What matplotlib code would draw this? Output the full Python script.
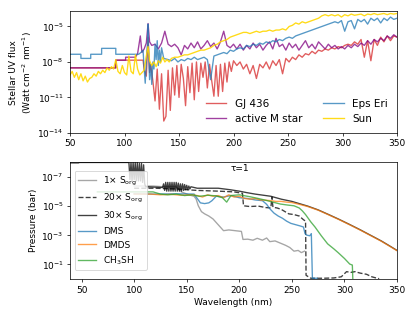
import numpy as np
import matplotlib
matplotlib.use('Agg')
import matplotlib.pyplot as plt

########## stellar spectra (log10 flux, Watt cm^-2 nm^-1) ##########
gj436_wl = [50, 92, 92, 117,
            118, 120, 121.6, 123, 124, 126, 128, 130, 132, 134,
            136, 138, 140, 142, 144, 146, 148, 150, 152, 154,
            156, 158, 160, 162, 164, 166, 168, 170, 172, 174,
            176, 178, 180, 182, 184, 186, 188, 190, 192, 194,
            196, 198, 200,
            203, 206, 209, 212, 215, 218, 221, 224, 227, 230,
            233, 236, 239, 242, 245, 248, 251, 254, 257, 260,
            263, 266, 269, 272, 275, 278, 281, 284, 287, 290,
            293, 296, 299, 302, 305, 308, 311, 314, 317, 320,
            323, 326, 329, 332, 335, 338, 341, 344, 347, 350]
gj436_logf = [-8.5, -8.5, -7.85, -7.85,
              -8.6, -9.2, -5.9, -8.9, -8.2, -9.6, -11.3, -8.6, -12.0, -9.0,
              -13.0, -12.6, -8.7, -12.1, -8.5, -10.8, -8.3, -11.0, -8.2, -9.4,
              -11.7, -8.4, -10.6, -8.1, -11.2, -8.0, -10.5, -8.1, -9.3, -8.0,
              -10.2, -8.2, -9.6, -10.9, -8.3, -10.9, -8.2, -10.5, -8.1, -9.7,
              -8.0, -8.8, -7.9,
              -8.3, -8.0, -8.6, -8.2, -9.0, -8.3, -9.4, -8.2, -8.5, -8.0,
              -8.6, -7.9, -8.3, -7.8, -9.0, -7.7, -8.0, -7.6, -7.8, -7.4,
              -7.6, -7.3, -7.4, -7.1, -7.3, -7.0, -7.1, -6.9, -7.0, -6.8,
              -6.9, -6.7, -6.8, -6.6, -6.5, -6.6, -6.3, -6.5, -6.1, -7.6,
              -6.2, -7.9, -6.1, -6.6, -5.9, -6.3, -5.8, -6.2, -5.8, -5.9]

mstar_wl = [50, 92, 92, 101, 101, 110, 112, 114.5, 116, 118, 120, 121.6, 123,
            125, 128, 131, 134, 137, 140, 143, 146, 149, 152,
            155, 158, 161, 164, 167, 170, 173, 176, 179, 182,
            185, 188, 191, 194, 197, 200,
            203, 206, 209, 212, 215, 218, 221, 224, 227, 230,
            233, 236, 239, 242, 245, 248, 251, 254, 257, 260,
            263, 266, 269, 272, 275, 278, 281, 284, 287, 290,
            293, 296, 299, 302, 305, 308, 311, 314, 317, 320,
            323, 326, 329, 332, 335, 338, 341, 344, 347, 350]
mstar_logf = [-8.5, -8.5, -7.85, -7.85, -7.6, -7.6, -7.3, -5.8, -7.2, -6.9, -6.4, -4.75, -6.3,
              -6.6, -6.5, -6.9, -6.4, -5.4, -6.5, -6.7, -6.5, -6.8, -7.4,
              -6.6, -6.9, -6.4, -6.8, -6.3, -6.9, -6.6, -6.2, -6.7, -6.4,
              -6.9, -6.3, -5.4, -6.6, -6.8, -6.5,
              -6.9, -6.5, -7.0, -6.6, -6.9, -6.4, -6.8, -6.5, -7.0, -6.6,
              -6.3, -6.9, -6.0, -6.7, -6.5, -7.0, -6.4, -6.8, -6.5, -7.0,
              -6.6, -6.2, -6.8, -6.5, -6.9, -6.3, -6.6, -6.9, -6.5, -6.8,
              -6.6, -6.9, -6.7, -6.9, -6.6, -6.8, -6.5, -6.7, -6.4, -6.6,
              -6.2, -6.5, -6.1, -6.3, -6.0, -6.2, -5.8, -6.0, -5.7, -5.9]

epseri_wl = [50, 60, 60, 69, 69, 79, 79, 92, 92, 113,
             115, 117, 118, 119, 120, 121, 121.6, 122, 123, 124,
             125, 126, 127, 128, 129, 130, 131, 132, 133, 134, 136,
             140, 143, 146, 149, 152, 155, 158, 161, 164, 167,
             170, 173, 176, 179, 182, 185, 188, 191, 194, 197,
             200, 203, 206, 209, 212, 215, 218, 221, 224, 227,
             230, 233, 236, 239, 242, 245, 248, 251, 254, 257,
             260, 263, 266, 269, 272, 275, 278, 281, 284, 287,
             290, 293, 296, 299, 302, 305, 308, 311, 314, 317,
             320, 323, 326, 329, 332, 335, 338, 341, 344, 347, 350]
epseri_logf = [-7.35, -7.35, -7.7, -7.7, -7.35, -7.35, -6.85, -6.85, -7.35, -7.35,
               -7.2, -7.0, -8.5, -9.8, -8.0, -6.5, -4.8, -6.8, -9.5, -8.2,
               -9.9, -8.0, -8.6, -6.5, -7.8, -6.2, -8.3, -7.0, -8.0, -6.8, -7.7,
               -7.8, -7.9, -7.7, -8.0, -7.8, -7.9, -7.7, -7.8, -7.6, -7.8,
               -7.7, -7.6, -7.8, -9.5, -7.5, -7.4, -7.3, -7.2, -7.3, -7.0,
               -7.1, -6.9, -6.8, -6.9, -6.6, -6.7, -6.5, -6.6, -6.4, -6.5,
               -6.3, -6.4, -6.2, -6.3, -6.1, -6.2, -6.0, -5.9, -6.0, -5.8,
               -5.7, -5.6, -5.5, -5.4, -5.3, -5.2, -5.1, -5.0, -4.9, -4.8,
               -4.7, -4.6, -4.7, -4.5, -5.4, -4.6, -4.5, -5.2, -4.4, -4.6,
               -4.4, -4.8, -4.3, -4.5, -4.3, -4.7, -4.3, -4.5, -4.2, -4.4, -4.3]

sun_wl = [50, 52, 54, 56, 58, 60, 62, 64, 66, 68,
          70, 72, 74, 76, 78, 80, 82, 84, 86, 88,
          90, 92, 94, 96, 98, 100, 102, 104, 106, 108,
          110, 112, 114, 116, 118,
          120, 121.6, 123, 125, 127, 129, 131, 133, 135, 137, 139, 141,
          143, 146, 149, 152, 155, 158, 161, 164, 167, 170,
          173, 176, 179, 182, 185, 188, 191, 194, 197, 200,
          203, 206, 209, 212, 215, 218, 221, 224, 227, 230,
          233, 236, 239, 242, 245, 248, 251, 254, 257, 260,
          263, 266, 269, 272, 275, 278, 281, 284, 287, 290,
          293, 296, 299, 302, 305, 308, 311, 314, 317, 320,
          323, 326, 329, 332, 335, 338, 341, 344, 347, 350]
sun_logf = [-9.1, -8.8, -9.3, -8.9, -9.5, -9.0, -9.6, -9.2, -9.7, -9.4,
            -9.3, -9.0, -9.2, -8.8, -9.0, -8.7, -8.9, -8.5, -8.7, -8.4,
            -8.6, -7.8, -8.8, -9.0, -8.3, -8.9, -9.1, -7.5, -8.8, -9.0,
            -7.4, -8.6, -9.1, -8.9, -8.7,
            -7.5, -6.7, -7.9, -8.3, -8.0, -8.4, -7.9, -8.1, -7.6, -8.0, -7.8, -8.0,
            -7.7, -7.6, -7.6, -7.5, -7.4, -7.4, -7.3, -7.2, -7.1, -7.0,
            -7.0, -6.9, -6.8, -6.6, -6.5, -6.3, -6.2, -6.1, -5.9, -5.8,
            -5.7, -5.6, -5.5, -5.5, -5.6, -5.5, -5.4, -5.5, -5.4, -5.4,
            -5.3, -5.4, -5.3, -5.3, -5.2, -5.3, -5.0, -4.9, -4.7, -4.8,
            -4.6, -4.7, -4.6, -4.5, -4.4, -4.3, -4.1, -4.0, -4.1, -4.0,
            -4.1, -4.0, -4.2, -4.0, -4.1, -3.95, -4.05, -4.0, -3.95, -4.1,
            -3.95, -4.0, -3.9, -4.0, -3.95, -3.9, -4.0, -3.9, -3.95, -3.9]

########## tau=1 pressure (log10 bar) ##########
s1_wl = [100, 118, 128, 140, 145, 152, 157, 159, 161, 164,
         167, 171, 175, 180, 185, 190, 196, 202, 203.5, 208,
         213, 217, 222, 226, 229, 234, 239, 244, 248, 252,
         256, 259, 262]
s1_logp = [-6.35, -6.35, -6.3, -6.3, -5.95, -5.75, -5.65, -5.45, -5.0, -4.6,
           -4.45, -4.3, -4.1, -3.7, -3.3, -3.35, -3.3, -3.25, -2.7, -2.72,
           -2.65, -2.78, -2.65, -2.8, -2.55, -2.6, -2.45, -2.3, -2.15, -1.9,
           -1.95, -1.8, -1.9]

s20_wl = [100, 120, 140, 160, 180, 195, 203, 204, 210, 218,
          225, 230, 231, 232, 236, 240, 247, 252, 257, 261,
          263, 263.5, 268, 280, 290, 297, 302, 306, 310, 315,
          321, 326, 331, 333]
s20_logp = [-6.2, -6.2, -6.15, -6.05, -6.0, -5.95, -5.85, -5.0, -4.95, -4.98,
            -4.88, -4.85, -5.6, -4.9, -4.85, -4.75, -4.45, -4.4, -4.3, -4.05,
            -3.95, -0.25, -0.05, -0.05, -0.07, -0.15, -0.5, -0.45, -0.5, -0.4,
            -0.32, -0.15, -0.05, -0.02]

s30_wl = [39, 47, 48, 95, 96, 97, 98, 99, 100, 101,
          102, 103, 104, 105, 106, 107, 108, 109, 110, 111, 127,
          128, 129, 130, 131, 132, 133, 134, 135, 136, 137,
          138, 139, 140, 141, 142, 143, 144, 145, 146, 147,
          148, 149, 150, 151, 152, 153, 154,
          160, 170, 180, 191, 200, 207, 215, 230, 240, 250,
          257, 265, 275, 285, 295, 305, 315, 325, 335, 342, 350]
s30_logp = [-7.93, -7.93, -7.96, -7.96, -6.8, -7.95, -6.7, -7.95, -6.8, -7.95,
            -6.7, -7.95, -6.7, -7.9, -6.7, -7.9, -6.6, -7.8, -6.5, -6.3, -6.25,
            -6.5, -6.05, -6.6, -6.0, -6.6, -6.0, -6.6, -6.0, -6.6, -6.0,
            -6.6, -6.0, -6.6, -6.0, -6.55, -6.0, -6.5, -6.0, -6.5, -6.05,
            -6.45, -6.1, -6.4, -6.1, -6.35, -6.15, -6.3,
            -6.2, -6.2, -6.2, -6.1, -6.0, -5.9, -5.8, -5.65, -5.45, -5.3,
            -5.15, -4.98, -4.72, -4.4, -4.07, -3.72, -3.36, -2.98, -2.6, -2.3, -1.95]

dms_wl = [100, 120, 140, 157, 160, 163, 167, 171, 174, 178,
          185, 192, 200, 208, 215, 222, 226, 229, 233, 237,
          241, 245, 249, 254, 258, 261, 262.5, 264, 267, 268.5,
          269.5, 274]
dms_logp = [-5.82, -5.8, -5.82, -5.8, -5.5, -5.2, -5.15, -5.2, -5.35, -5.65,
            -5.6, -5.7, -5.55, -5.5, -5.4, -5.35, -5.1, -4.8, -4.5, -4.3,
            -4.15, -3.95, -3.8, -3.7, -3.62, -3.55, -3.1, -3.0, -2.95, -3.1,
            -0.05, -0.05]

dmds_wl = [100, 115, 125, 135, 145, 155, 160, 165, 170, 175,
           180, 185, 190, 195, 200, 205, 210, 215, 220, 225,
           230, 235, 240, 245, 250, 257, 265, 275, 285, 295,
           305, 315, 325, 335, 342, 350]
dmds_logp = [-5.8, -5.8, -5.75, -5.78, -5.72, -5.75, -5.7, -5.6, -5.75, -5.65,
             -5.7, -5.55, -5.75, -5.6, -5.65, -5.5, -5.45, -5.5, -5.4, -5.38,
             -5.35, -5.3, -5.3, -5.25, -5.22, -5.1, -4.95, -4.7, -4.38, -4.05,
             -3.7, -3.34, -2.96, -2.58, -2.28, -1.93]

ch3sh_wl = [65, 118, 125, 132, 140, 148, 155, 162, 170, 178,
            184, 188, 192, 200, 210, 218, 225, 232, 239, 246,
            252, 257, 260, 263, 268, 272, 278, 284, 290, 294,
            300, 305, 307.5, 308]
ch3sh_logp = [-5.95, -5.95, -5.8, -5.75, -5.8, -5.7, -5.75, -5.65, -5.72, -5.68,
              -5.55, -5.25, -5.7, -5.75, -5.62, -5.5, -5.38, -5.25, -5.12, -5.05,
              -5.0, -4.85, -4.65, -4.4, -3.9, -3.55, -2.95, -2.4, -2.05, -1.8,
              -1.4, -1.02, -0.95, 0.1]

#####################################
DPI = 415 / 6.4
fig = plt.figure(figsize=(6.4, 4.8), dpi=DPI)
ax1 = fig.add_axes([0.1687, 0.5723, 0.788, 0.3923])
ax2 = fig.add_axes([0.1687, 0.1029, 0.788, 0.3762])

# top panel: stellar spectra
ax1.plot(gj436_wl, 10 ** np.array(gj436_logf), color='tab:red', alpha=0.75, label='GJ 436')
ax1.plot(mstar_wl, 10 ** np.array(mstar_logf), color='purple', alpha=0.75, label='active M star')
ax1.plot(epseri_wl, 10 ** np.array(epseri_logf), color='tab:blue', alpha=0.75, label='Eps Eri')
ax1.plot(sun_wl, 10 ** np.array(sun_logf), color='gold', alpha=0.9, label='Sun')
ax1.set_yscale('log')
ax1.set_xlim(50, 350)
ax1.set_ylim(1e-14, 10 ** -3.67)
ax1.set_yticks([1e-14, 1e-11, 1e-8, 1e-5])
ax1.yaxis.set_minor_locator(matplotlib.ticker.NullLocator())
ax1.set_xticks([50, 100, 150, 200, 250, 300, 350])
ax1.set_ylabel('Stellar UV flux\n(Watt cm$^{-2}$ nm$^{-1}$)')
ax1.legend(loc='lower right', ncol=2, frameon=False, fontsize=11.5)

# bottom panel: tau=1 pressure
ax2.plot(s1_wl, 10 ** np.array(s1_logp), color='gray', alpha=0.7, label=r'1$\times$ S$_{\mathrm{org}}$')
ax2.plot(s20_wl, 10 ** np.array(s20_logp), color='k', ls='--', alpha=0.75, label=r'20$\times$ S$_{\mathrm{org}}$')
ax2.plot(s30_wl, 10 ** np.array(s30_logp), color='k', alpha=0.75, label=r'30$\times$ S$_{\mathrm{org}}$')
ax2.plot(dms_wl, 10 ** np.array(dms_logp), color='tab:blue', alpha=0.75, label='DMS')
ax2.plot(dmds_wl, 10 ** np.array(dmds_logp), color='tab:orange', alpha=0.75, label='DMDS')
ax2.plot(ch3sh_wl, 10 ** np.array(ch3sh_logp), color='tab:green', alpha=0.75, label='CH$_3$SH')
ax2.set_yscale('log')
ax2.set_xlim(39, 350)
ax2.set_ylim(1, 1e-8)
ax2.set_yticks([1e-7, 1e-5, 1e-3, 1e-1])
ax2.yaxis.set_minor_locator(matplotlib.ticker.NullLocator())
ax2.set_xticks([50, 100, 150, 200, 250, 300, 350])
ax2.set_xlabel('Wavelength (nm)')
ax2.set_ylabel('Pressure (bar)')
ax2.text(0.52, 0.945, 'τ=1', transform=ax2.transAxes, ha='center', va='center')
ax2.legend(loc='center left')

fig.savefig('out.png', dpi=DPI)
